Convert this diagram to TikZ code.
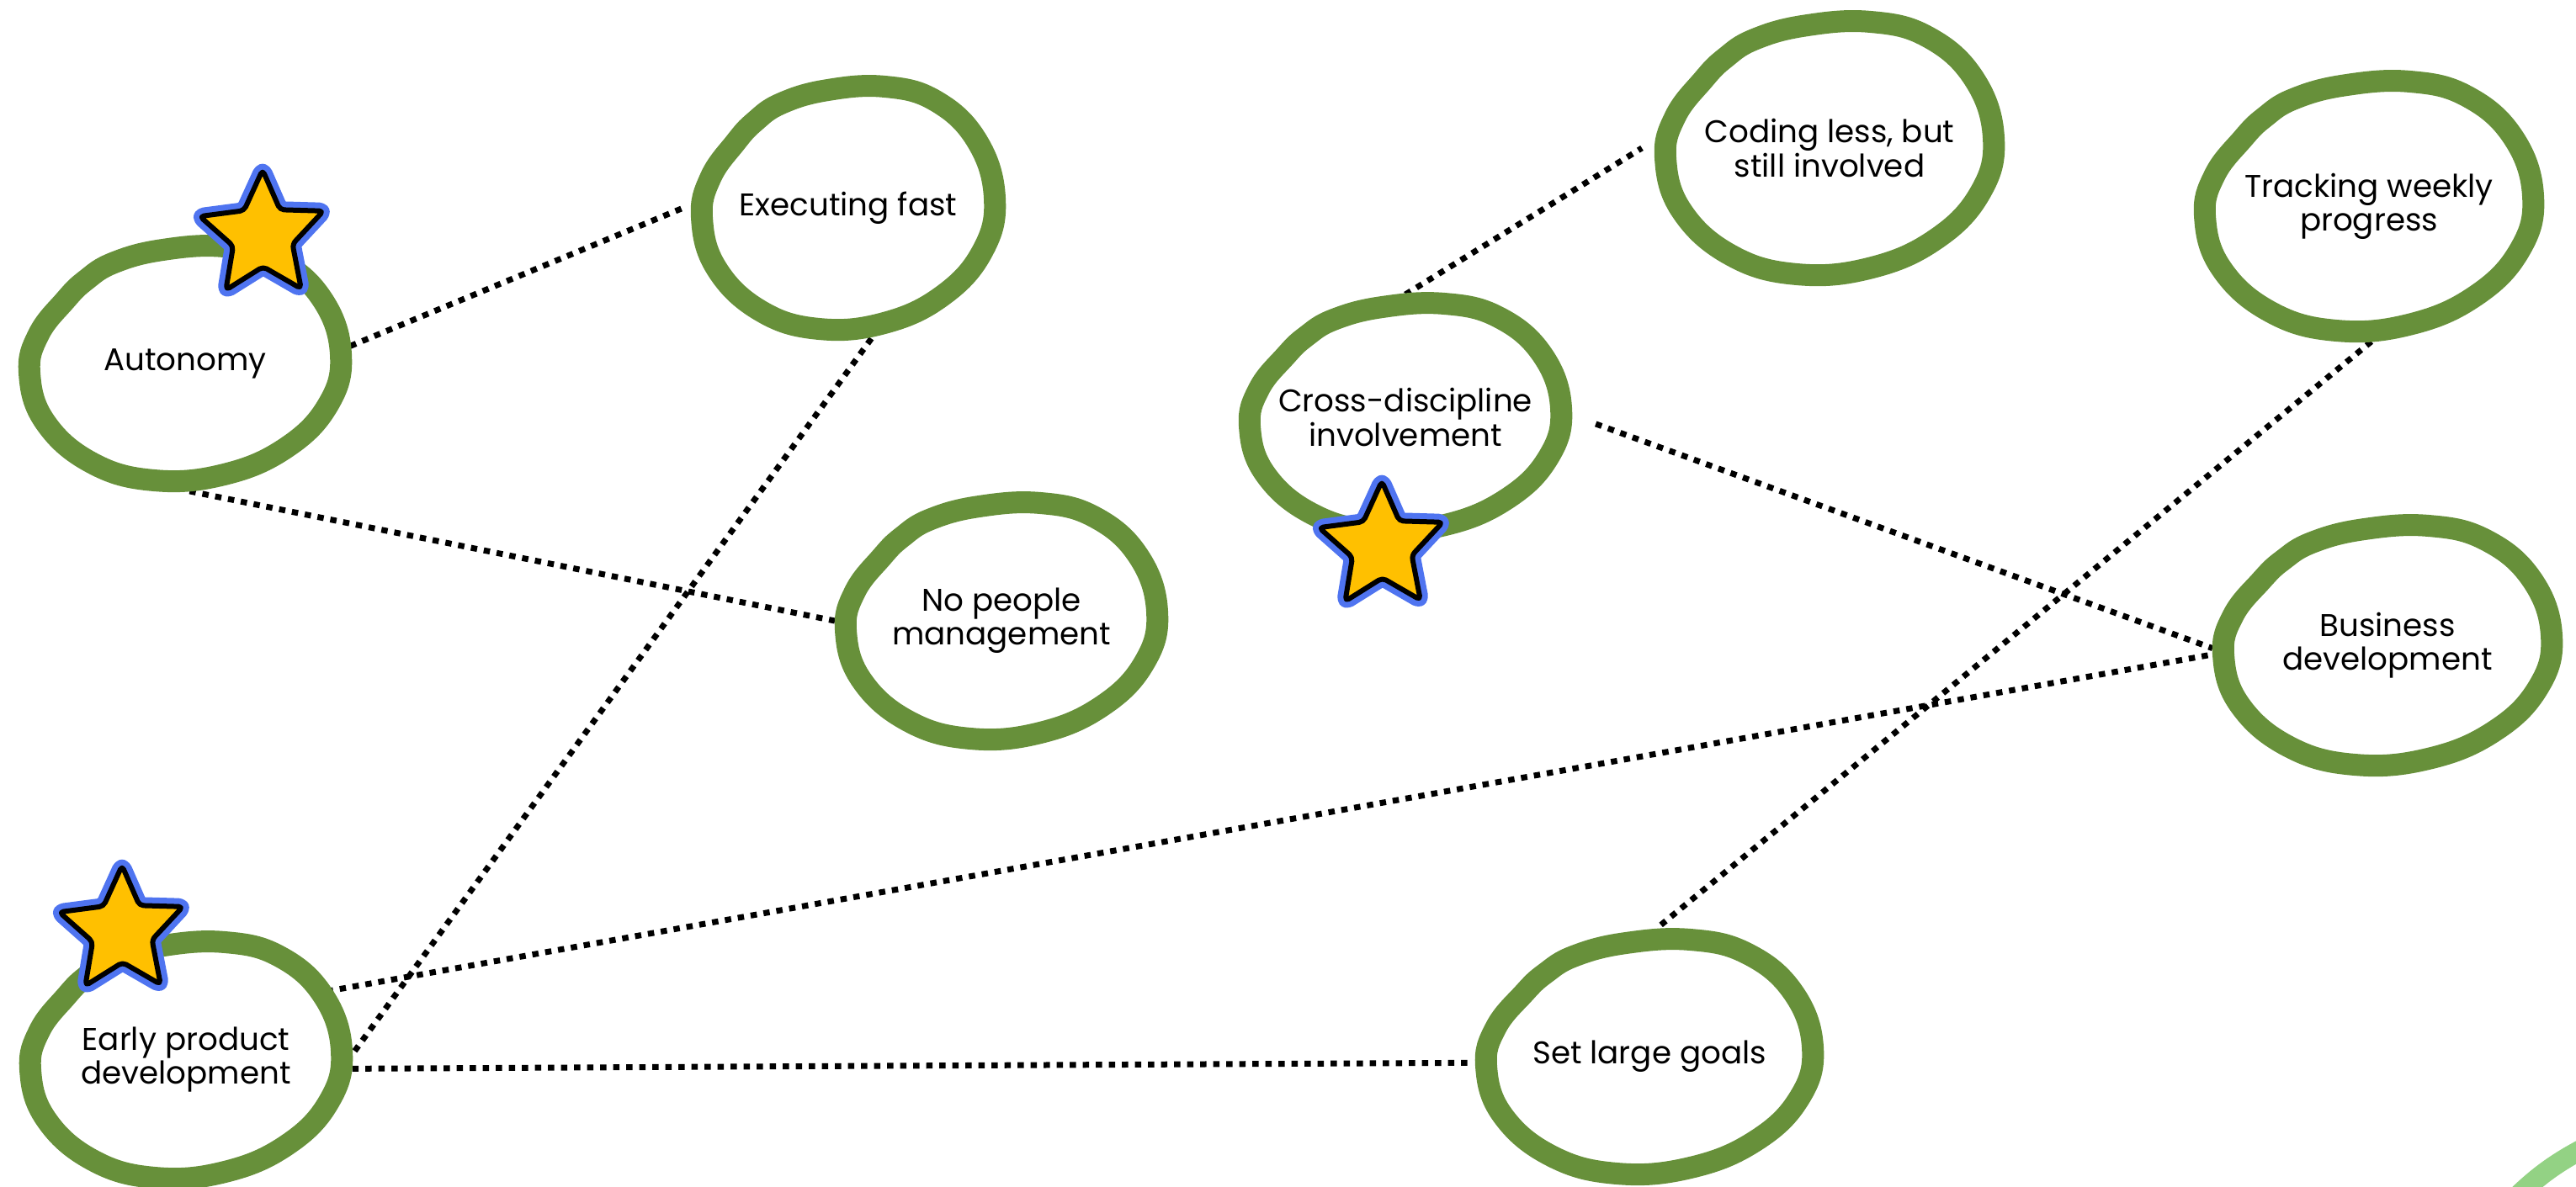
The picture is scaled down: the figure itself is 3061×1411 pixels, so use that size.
\documentclass[tikz,border=0pt]{standalone}
\usepackage{fontspec}
\setmainfont{Poppins}
\usetikzlibrary{shapes.geometric}
\definecolor{blobgreen}{HTML}{67903A}
\definecolor{staryellow}{HTML}{FFC000}
\definecolor{starblue}{HTML}{4F74F0}
\definecolor{palegreen}{HTML}{93D284}
\newcommand\blobaround[3]{%
  \draw[blobline, shift={(#1.center)}, xscale=#2, yscale=#3]
    plot[smooth cycle, tension=0.7] coordinates {
      (1.0,-0.08) (0.88,-0.55) (0.6,-0.88) (0.25,-1.0) (-0.15,-0.97)
      (-0.46,-0.86) (-0.64,-0.71) (-0.77,-0.54) (-0.94,-0.25) (-1.0,0.08)
      (-0.9,0.5) (-0.6,0.85) (-0.2,1.0) (0.25,0.95) (0.65,0.72) (0.92,0.35)};}
\begin{document}
\begin{tikzpicture}[x=0.1mm, y=-0.1mm,
  concept/.style={ellipse, draw=none, inner sep=0pt, outer sep=1.3mm,
    align=center, font=\fontsize{10.6}{11.4}\selectfont},
  blobline/.style={draw=blobgreen, line width=2.6mm, line join=round},
  link/.style={draw=black, line width=0.7mm, dash pattern=on 0.75mm off 0.8mm},
  starpic/.pic={
    \path[draw=starblue, line width=2.0mm, line join=round, rounded corners=0.5mm]
      (0,-78) -- (-22,-29.7) -- (-74.6,-22.8) -- (-34.9,12.4) -- (-43.6,64.7)
      -- (0.6,37) -- (45.8,63.1) -- (35.6,10.2) -- (72.3,-29.2) -- (20.7,-30.7) -- cycle;
    \path[fill=staryellow, draw=black, line width=0.6mm, line join=round, rounded corners=0.5mm]
      (0,-78) -- (-22,-29.7) -- (-74.6,-22.8) -- (-34.9,12.4) -- (-43.6,64.7)
      -- (0.6,37) -- (45.8,63.1) -- (35.6,10.2) -- (72.3,-29.2) -- (20.7,-30.7) -- cycle;
  }]
\useasboundingbox (0,0) rectangle (3061,1411);

% nodes (ellipse path radii match the blobs)
\node[concept, minimum width=3.70cm, minimum height=2.78cm] (aut) at (220,432) {Autonomy};
\node[concept, minimum width=3.48cm, minimum height=2.88cm] (exe) at (1008,247) {Executing fast};
\node[concept, minimum width=3.70cm, minimum height=2.80cm] (np) at (1190,738) {No people\\management};
\node[concept, minimum width=3.70cm, minimum height=2.80cm] (epd) at (221,1260) {Early product\\development};
\node[concept, minimum width=3.88cm, minimum height=2.78cm] (slg) at (1960,1256) {Set large goals};
\node[concept, minimum width=3.70cm, minimum height=2.66cm] (cdi) at (1670,496) {Cross-discipline\\involvement};
\node[concept, minimum width=3.90cm, minimum height=2.94cm] (cl) at (2174,176) {Coding less, but\\still involved};
\node[concept, minimum width=3.90cm, minimum height=2.96cm] (twp) at (2815,245) {Tracking weekly\\progress};
\node[concept, minimum width=3.90cm, minimum height=2.84cm] (bd) at (2837,767) {Business\\development};

% connectors
\draw[link] (aut.6) -- (exe.180);
\draw[link] (aut.-88) -- (np.180);
\draw[link] (exe.-80) -- (epd.2);
\draw[link] (epd.26) -- (bd.183);
\draw[link] (epd.-3) -- (slg.182);
\draw[link] (cdi.90) -- (cl.180);
\draw[link] (cdi.-2) -- (bd.181);
\draw[link] (twp.-89) -- (slg.87);

% hand-drawn rings
\blobaround{aut}{185}{139}
\blobaround{exe}{174}{144}
\blobaround{np}{185}{140}
\blobaround{epd}{185}{140}
\blobaround{slg}{194}{139}
\blobaround{cdi}{185}{135}
\blobaround{cl}{195}{150}
\blobaround{twp}{195}{148}
\blobaround{bd}{195}{142}

% stars
\pic at (312,280) {starpic};
\pic at (1642,650) {starpic};
\pic at (145,1107) {starpic};

% partial pale ring in the corner
\begin{scope}
  \clip (0,0) rectangle (3061,1411);
  \draw[palegreen, line width=2.4mm] (2985,1428) .. controls (3015,1398) and (3040,1380) .. (3080,1360);
\end{scope}
\end{tikzpicture}
\end{document}
